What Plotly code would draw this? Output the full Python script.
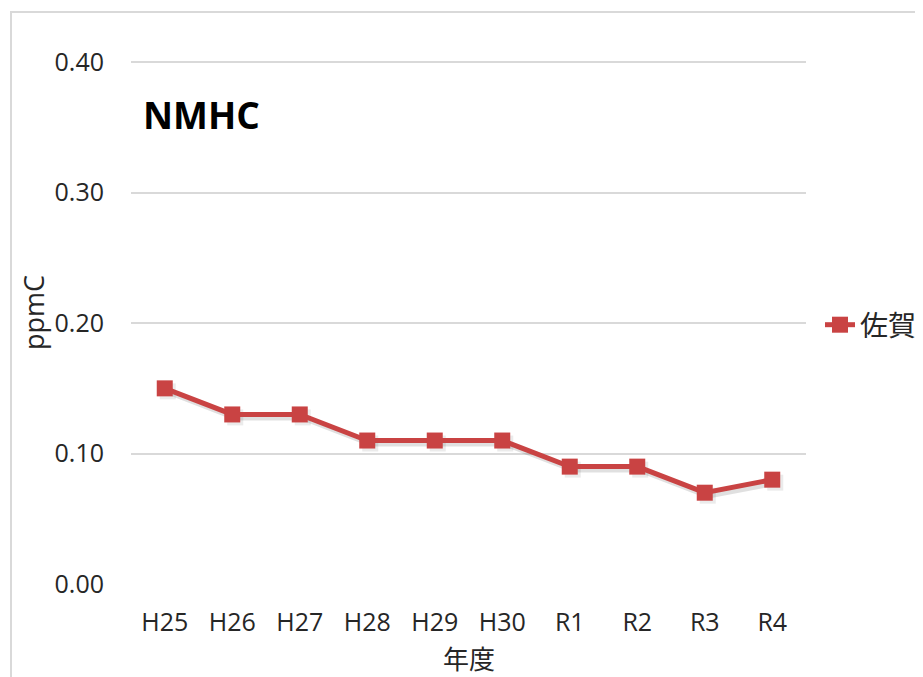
import plotly.graph_objects as go

categories = ["H25", "H26", "H27", "H28", "H29", "H30", "R1", "R2", "R3", "R4"]
saga_values = [0.15, 0.13, 0.13, 0.11, 0.11, 0.11, 0.09, 0.09, 0.07, 0.08]
y_ticks = [0.0, 0.1, 0.2, 0.3, 0.4]
y_tick_labels = ["0.00", "0.10", "0.20", "0.30", "0.40"]

FONT = "Open Sans, Noto Sans CJK JP, sans-serif"
RED = "#c94343"
OFF = 8  # default page body margin

W, H = 923 - OFF, 677 - OFF
L = 131 - OFF
T = 61 - OFF
R = 923 - 806
B = 677 - 584
pw, ph = W - L - R, H - T - B

def px_x(x):
    return (x - OFF - L) / pw

def px_y(y):
    return 1 - (y - OFF - T) / ph

n = len(categories)
x_range = [-0.5, n - 0.5]
y_range = [0, 0.401]
# shadow axes: same scale, shifted a few pixels right/down
dx = 3 * n / pw
dy = 3 * (y_range[1] - y_range[0]) / ph

fig = go.Figure()
# invisible trace on base axes (keeps ticks/grid)
fig.add_trace(go.Scatter(
    x=categories, y=saga_values, mode="lines", line=dict(color="rgba(0,0,0,0)"),
    showlegend=False, hoverinfo="skip",
))
fig.add_trace(go.Scatter(
    x=categories, y=saga_values, name="shadow", mode="lines+markers",
    line=dict(color="rgba(0,0,0,0.12)", width=6),
    marker=dict(symbol="square", size=16, color="rgba(0,0,0,0.08)"),
    xaxis="x2", yaxis="y2", showlegend=False, hoverinfo="skip",
))
fig.add_trace(go.Scatter(
    x=categories, y=saga_values, name="佐賀", mode="lines+markers",
    line=dict(color=RED, width=5),
    marker=dict(symbol="square", size=16, color=RED),
    xaxis="x3", yaxis="y3",
))

fig.update_layout(
    width=W, height=H,
    margin=dict(l=L, r=R, t=T, b=B, autoexpand=False),
    paper_bgcolor="white", plot_bgcolor="white",
    font=dict(family=FONT, size=25, color="#262626"),
    xaxis=dict(type="category", range=x_range, categoryarray=categories,
               showgrid=False, showline=False, ticks="", automargin=False,
               tickfont=dict(size=25), ticklabelstandoff=21),
    yaxis=dict(range=y_range, tickvals=y_ticks, ticktext=y_tick_labels,
               showgrid=True, gridcolor="#d9d9d9", gridwidth=1.5, zeroline=False,
               showline=False, ticks="", tickfont=dict(size=25), automargin=False,
               ticklabelstandoff=26),
    xaxis2=dict(type="category", overlaying="x", categoryarray=categories,
                range=[x_range[0] - dx, x_range[1] - dx], visible=False),
    yaxis2=dict(overlaying="y", range=[y_range[0] + dy, y_range[1] + dy], visible=False),
    xaxis3=dict(type="category", overlaying="x", categoryarray=categories,
                range=x_range, visible=False),
    yaxis3=dict(overlaying="y", range=y_range, visible=False),
    legend=dict(x=px_x(820), y=px_y(325), xanchor="left", yanchor="middle",
                font=dict(size=28), bgcolor="rgba(0,0,0,0)", itemwidth=30,
                borderwidth=0, tracegroupgap=0),
    showlegend=True,
    annotations=[
        dict(text="<b>NMHC</b>", x=px_x(141), y=px_y(114),
             xref="paper", yref="paper", xanchor="left", yanchor="middle",
             showarrow=False, font=dict(size=37, color="black")),
        dict(text="年度", x=px_x(469), y=px_y(659),
             xref="paper", yref="paper", xanchor="center", yanchor="middle",
             showarrow=False, font=dict(size=26)),
        dict(text="ppmC", x=px_x(33), y=px_y(313), textangle=-90,
             xref="paper", yref="paper", xanchor="center", yanchor="middle",
             showarrow=False, font=dict(size=27)),
    ],
    shapes=[dict(type="rect", xref="paper", yref="paper",
                 x0=px_x(11), x1=px_x(940),
                 y0=px_y(700), y1=px_y(12),
                 line=dict(color="#d9d9d9", width=2), fillcolor="rgba(0,0,0,0)", layer="below")],
)

fig.write_html("out.html")
